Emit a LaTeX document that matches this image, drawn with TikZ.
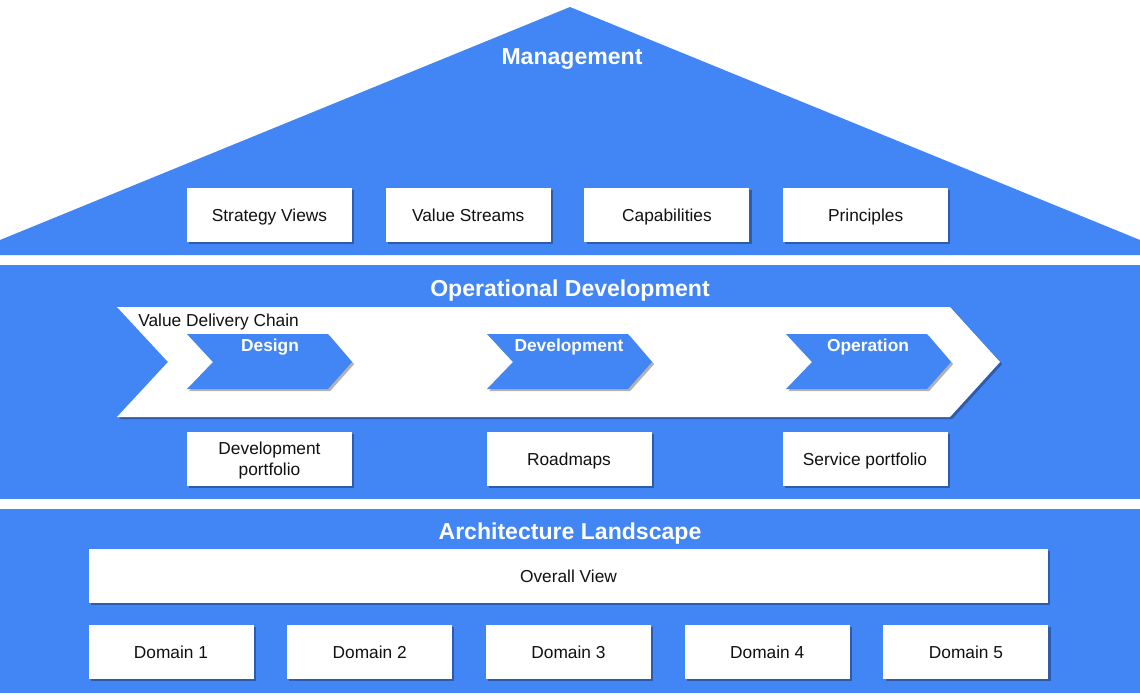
\documentclass[tikz,border=0pt]{standalone}
\usepackage{fontspec}
\setmainfont{Liberation Sans}
\usetikzlibrary{positioning,shadows}
\definecolor{roof}{HTML}{4285F4}
\definecolor{ink}{HTML}{111111}
\tikzset{
  lift/.style={drop shadow={shadow xshift=1.6pt, shadow yshift=-1.6pt, fill=black, opacity=0.3}},
  card/.style={lift, fill=white, text=ink, inner sep=0pt, outer sep=0pt, minimum width=123.75pt, minimum height=40.5pt, text height=9.3pt, text depth=0pt, align=center, font=\fontsize{13}{15.75}\selectfont},
  heading/.style={text=white, inner sep=0pt, text height=12.4pt, text depth=0pt, font=\bfseries\fontsize{17.3}{20}\selectfont},
  stage/.style={text=white, inner sep=0pt, text height=9.3pt, text depth=0pt, font=\bfseries\fontsize{13}{15}\selectfont}
}
\begin{document}
\begin{tikzpicture}[x=0.75pt, y=-0.75pt]
\useasboundingbox (0,0) rectangle (1140,700);
% the three layers
\fill[roof] (570,7) -- (1140,240) -- (1140,255) -- (0,255) -- (0,240) -- cycle;
\fill[roof] (0,265) rectangle (1140,499);
\fill[roof] (0,509) rectangle (1140,693);
\node[heading] (mgmt) at (572,56) {Management};
\node[heading] (opdev) at (570,288) {Operational Development};
\node[heading] (arch) at (570,531) {Architecture Landscape};
% management
\node[card] (strategy) at (269.5,215) {Strategy Views};
\node[card, right=25.3pt of strategy] (streams) {Value Streams};
\node[card, right=25.3pt of streams] (capab) {Capabilities};
\node[card, right=25.3pt of capab] (princ) {Principles};
% value delivery chain
\fill[white, lift] (117,307) -- (950,307) -- (1000,362) -- (950,417) -- (117,417) -- (168,362) -- cycle;
\node[anchor=west, inner sep=0pt, text=ink, text height=9.3pt, text depth=0pt, font=\fontsize{13}{15}\selectfont] (chain) at (138,320) {Value Delivery Chain};
\fill[roof, lift] (187,334) -- (328,334) -- (352,362) -- (328,389) -- (187,389) -- (213,362) -- cycle;
\fill[roof, lift] (487,334) -- (628,334) -- (652,362) -- (628,389) -- (487,389) -- (513,362) -- cycle;
\fill[roof, lift] (786,334) -- (927,334) -- (951,362) -- (927,389) -- (786,389) -- (812,362) -- cycle;
\node[stage] (design) at (270,345) {Design};
\node[stage] (devel) at (569,345) {Development};
\node[stage] (oper) at (868,345) {Operation};
\node[card, text height=25.05pt] (portf) at (269.5,459) {Development\\portfolio};
\node[card] (roadmaps) at (569,459) {Roadmaps};
\node[card] (service) at (865,459) {Service portfolio};
% architecture landscape
\node[card, minimum width=719.25pt] (overall) at (568.5,576) {Overall View};
\node[card] (dom1) at (171,652) {Domain 1};
\node[card, right=25.3pt of dom1] (dom2) {Domain 2};
\node[card, right=25.3pt of dom2] (dom3) {Domain 3};
\node[card, right=25.3pt of dom3] (dom4) {Domain 4};
\node[card, right=25.3pt of dom4] (dom5) {Domain 5};
\end{tikzpicture}
\end{document}
